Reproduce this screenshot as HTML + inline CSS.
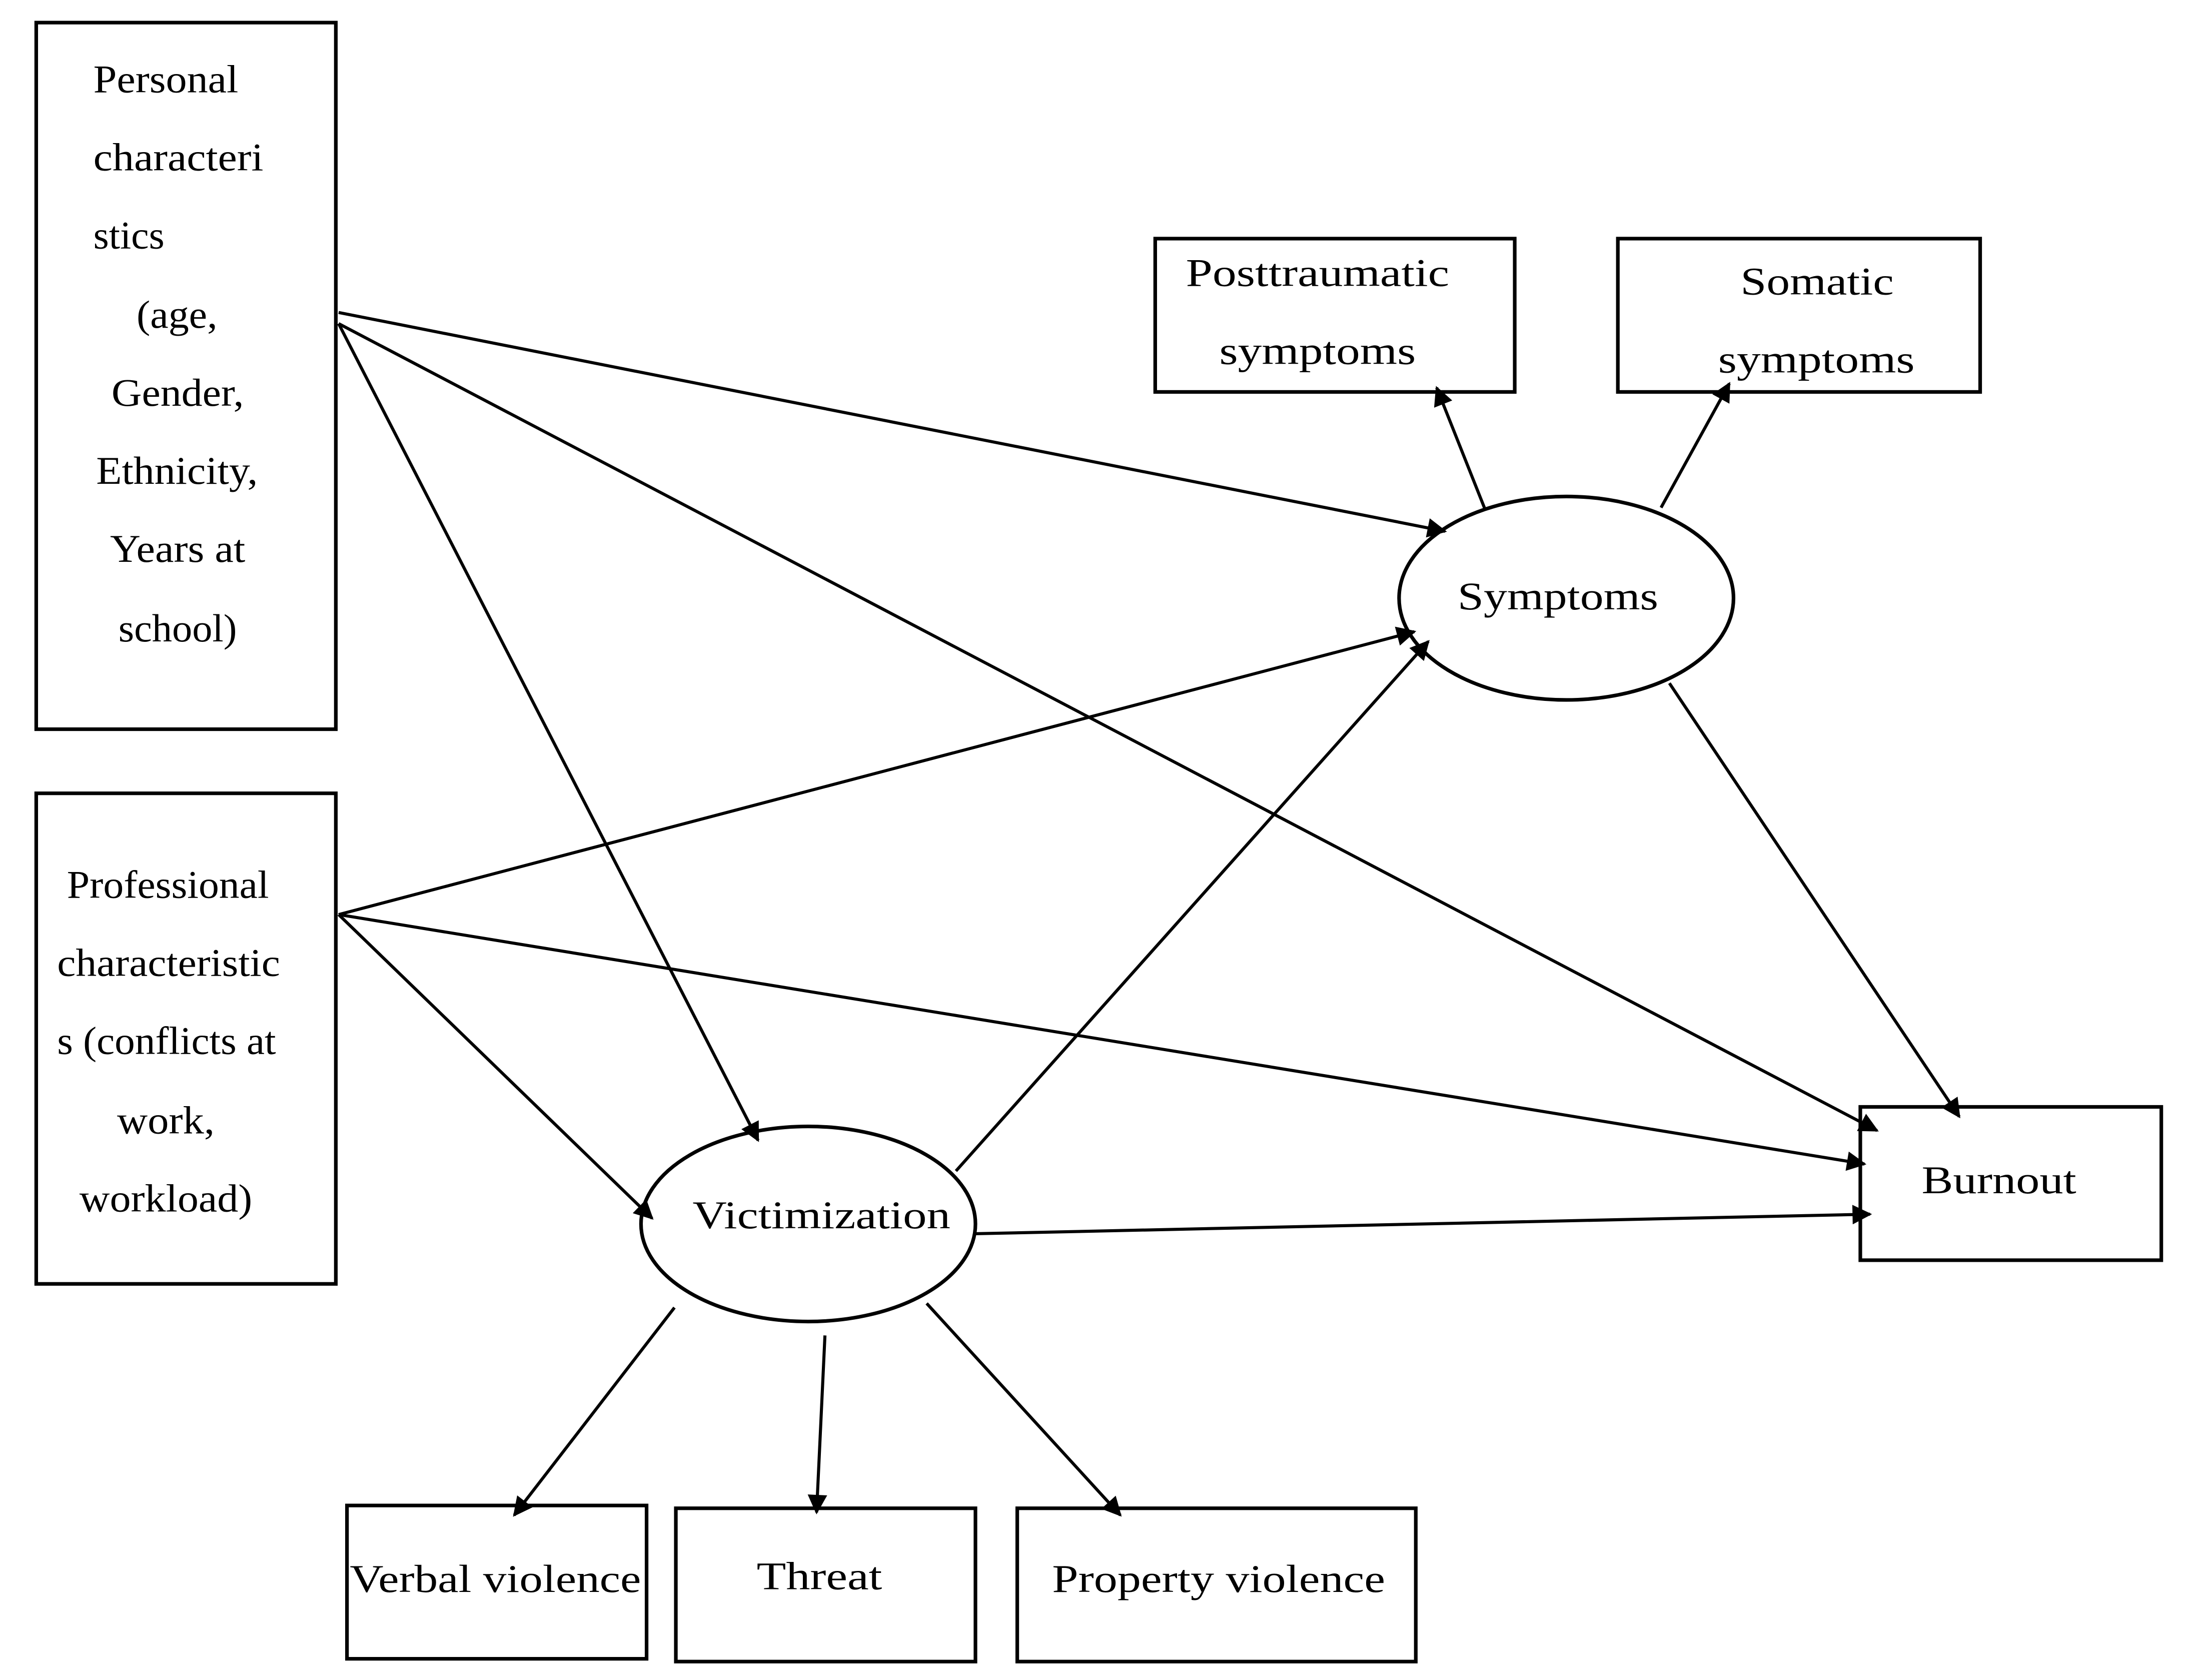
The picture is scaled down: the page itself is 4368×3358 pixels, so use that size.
<!DOCTYPE html>
<html><head><meta charset="utf-8"><style>
html,body{margin:0;padding:0;background:#fff;}
svg{display:block;}
text{font-family:"Liberation Serif",serif;font-size:28px;fill:#000;}
</style></head><body>
<svg width="4368" height="3358" viewBox="0 0 1568 1205" xmlns="http://www.w3.org/2000/svg">
<defs>
<marker id="a" viewBox="0 0 10 10" refX="9" refY="5" markerWidth="17" markerHeight="14" markerUnits="userSpaceOnUse" orient="auto">
<path d="M0,0 L10,5 L0,10 z" fill="#000"/>
</marker>
</defs>
<rect width="1568" height="1205" fill="#fff"/>
<g fill="none" stroke="#000" stroke-width="2.6">
<rect x="26" y="16" width="215" height="507"/>
<rect x="26" y="569" width="215" height="352"/>
<rect x="829" y="171" width="258" height="110"/>
<rect x="1161" y="171" width="260" height="110"/>
<rect x="1335" y="794" width="216" height="110"/>
<rect x="249" y="1080" width="215" height="110"/>
<rect x="485" y="1082" width="215" height="110"/>
<rect x="730" y="1082" width="286" height="110"/>
<ellipse cx="1124" cy="429" rx="120" ry="73"/>
<ellipse cx="580" cy="878" rx="120" ry="70"/>
</g>
<g fill="none" stroke="#000" stroke-width="2.2" marker-end="url(#a)">
<line x1="243" y1="224" x2="1037" y2="381"/>
<line x1="243" y1="232" x2="1347" y2="811"/>
<line x1="243" y1="232" x2="544" y2="818"/>
<line x1="243" y1="656" x2="1015" y2="453"/>
<line x1="243" y1="656" x2="1338" y2="835"/>
<line x1="243" y1="656" x2="468" y2="874"/>
<line x1="686" y1="840" x2="1025" y2="460"/>
<line x1="700" y1="885" x2="1342" y2="871"/>
<line x1="1198" y1="490" x2="1406" y2="801"/>
<line x1="1066" y1="366" x2="1031" y2="278"/>
<line x1="1192" y1="364" x2="1241" y2="275"/>
<line x1="484" y1="938" x2="369" y2="1087"/>
<line x1="592" y1="958" x2="586" y2="1085"/>
<line x1="665" y1="935" x2="804" y2="1087"/>
</g>
<g lengthAdjust="spacingAndGlyphs">
<text x="67" y="66" textLength="104" lengthAdjust="spacingAndGlyphs">Personal</text>
<text x="67" y="122" textLength="122" lengthAdjust="spacingAndGlyphs">characteri</text>
<text x="67" y="178" textLength="51" lengthAdjust="spacingAndGlyphs">stics</text>
<text x="98" y="235" textLength="58" lengthAdjust="spacingAndGlyphs">(age,</text>
<text x="80" y="291" textLength="95" lengthAdjust="spacingAndGlyphs">Gender,</text>
<text x="69" y="347" textLength="116" lengthAdjust="spacingAndGlyphs">Ethnicity,</text>
<text x="79" y="403" textLength="97" lengthAdjust="spacingAndGlyphs">Years at</text>
<text x="85" y="460" textLength="85" lengthAdjust="spacingAndGlyphs">school)</text>
<text x="48" y="644" textLength="145" lengthAdjust="spacingAndGlyphs">Professional</text>
<text x="41" y="700" textLength="160" lengthAdjust="spacingAndGlyphs">characteristic</text>
<text x="41" y="756" textLength="157" lengthAdjust="spacingAndGlyphs">s (conflicts at</text>
<text x="84" y="813" textLength="70" lengthAdjust="spacingAndGlyphs">work,</text>
<text x="57" y="869" textLength="124" lengthAdjust="spacingAndGlyphs">workload)</text>
<text x="851" y="205" textLength="189" lengthAdjust="spacingAndGlyphs">Posttraumatic</text>
<text x="875" y="261" textLength="141" lengthAdjust="spacingAndGlyphs">symptoms</text>
<text x="1249" y="211" textLength="110" lengthAdjust="spacingAndGlyphs">Somatic</text>
<text x="1233" y="267" textLength="141" lengthAdjust="spacingAndGlyphs">symptoms</text>
<text x="1046" y="437" textLength="144" lengthAdjust="spacingAndGlyphs">Symptoms</text>
<text x="497" y="881" textLength="185" lengthAdjust="spacingAndGlyphs">Victimization</text>
<text x="1379" y="856" textLength="111" lengthAdjust="spacingAndGlyphs">Burnout</text>
<text x="251" y="1142" textLength="209" lengthAdjust="spacingAndGlyphs">Verbal violence</text>
<text x="543" y="1140" textLength="90" lengthAdjust="spacingAndGlyphs">Threat</text>
<text x="755" y="1142" textLength="239" lengthAdjust="spacingAndGlyphs">Property violence</text>
</g>
</svg>
</body></html>
